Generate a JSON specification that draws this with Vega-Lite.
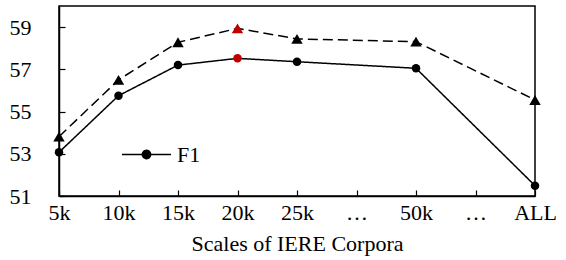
{
  "$schema": "https://vega.github.io/schema/vega-lite/v6.json",
  "width": 476,
  "height": 190,
  "autosize": "none",
  "padding": {"left": 59, "top": 6, "right": 31, "bottom": 64},
  "background": "white",
  "config": {
    "font": "Liberation Serif, Times New Roman, serif",
    "view": {"stroke": "black", "strokeWidth": 1.5},
    "axis": {
      "labelFont": "Liberation Serif, Times New Roman, serif",
      "titleFont": "Liberation Serif, Times New Roman, serif",
      "labelFontSize": 22,
      "titleFontSize": 22,
      "titleFontWeight": "normal",
      "labelColor": "black",
      "titleColor": "black",
      "domainColor": "black",
      "domainWidth": 1.5,
      "tickColor": "black",
      "tickWidth": 1.2,
      "grid": false
    },
    "legend": {"labelFont": "Liberation Serif, Times New Roman, serif", "labelFontSize": 22, "labelColor": "black"}
  },
  "data": {
    "values": [
      {"scale": "5k", "series": "F1", "value": 53.07},
      {"scale": "10k", "series": "F1", "value": 55.75},
      {"scale": "15k", "series": "F1", "value": 57.2},
      {"scale": "20k", "series": "F1", "value": 57.52},
      {"scale": "25k", "series": "F1", "value": 57.36},
      {"scale": "50k", "series": "F1", "value": 57.05},
      {"scale": "ALL", "series": "F1", "value": 51.49},
      {"scale": "5k", "series": "Series 2", "value": 53.81},
      {"scale": "10k", "series": "Series 2", "value": 56.5},
      {"scale": "15k", "series": "Series 2", "value": 58.28},
      {"scale": "20k", "series": "Series 2", "value": 58.94},
      {"scale": "25k", "series": "Series 2", "value": 58.44},
      {"scale": "50k", "series": "Series 2", "value": 58.31},
      {"scale": "ALL", "series": "Series 2", "value": 55.55}
    ]
  },
  "encoding": {
    "x": {
      "field": "scale",
      "type": "ordinal",
      "scale": {"type": "point", "padding": 0, "domain": ["5k", "10k", "15k", "20k", "25k", "…1", "50k", "…2", "ALL"]},
      "axis": {
        "title": "Scales of IERE Corpora",
        "labelAngle": 0,
        "labelExpr": "indexof(datum.label, '…') === 0 ? '…' : datum.label",
        "tickSize": -6,
        "labelPadding": 12,
        "titlePadding": 10
      }
    },
    "y": {
      "field": "value",
      "type": "quantitative",
      "scale": {"domain": [51, 60], "nice": false, "zero": false},
      "axis": {"title": null, "values": [51, 53, 55, 57, 59], "tickSize": -6, "labelPadding": 34}
    }
  },
  "layer": [
    {
      "mark": {"type": "line", "color": "black", "strokeWidth": 1.5},
      "encoding": {
        "strokeDash": {
          "field": "series",
          "type": "nominal",
          "scale": {"domain": ["F1", "Series 2"], "range": [[1, 0], [10, 5]]},
          "legend": {
            "title": null,
            "values": ["F1"],
            "orient": "none",
            "legendX": 62,
            "legendY": 123,
            "padding": 0,
            "symbolType": "M-1,0H1M-0.17,0A0.17,0.17 0 1,0 0.17,0A0.17,0.17 0 1,0 -0.17,0Z",
            "symbolSize": 2401,
            "symbolFillColor": "black",
            "symbolStrokeColor": "black",
            "symbolStrokeWidth": 1.5,
            "labelOffset": 5
          }
        },
        "order": {"value": null}
      }
    },
    {
      "transform": [{"filter": "datum.series === 'F1'"}],
      "mark": {"type": "point", "shape": "circle", "size": 72, "filled": true, "opacity": 1},
      "encoding": {
        "color": {
          "condition": {"test": "datum.scale === '20k'", "value": "#C00000"},
          "value": "black"
        }
      }
    },
    {
      "transform": [{"filter": "datum.series === 'Series 2'"}],
      "mark": {"type": "point", "shape": "triangle-up", "size": 130, "filled": true, "opacity": 1},
      "encoding": {
        "color": {
          "condition": {"test": "datum.scale === '20k'", "value": "#C00000"},
          "value": "black"
        }
      }
    }
  ]
}
